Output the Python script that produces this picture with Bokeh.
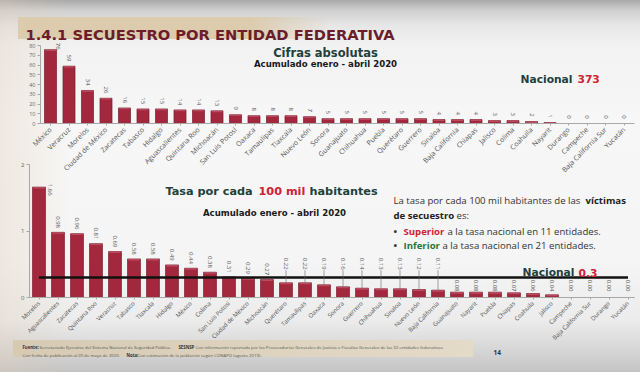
import math
from bokeh.plotting import figure
from bokeh.models import Range1d, FixedTicker, Label
from bokeh.layouts import column
from bokeh.embed import file_html
from bokeh.resources import INLINE
from bokeh.core.properties import value

# ---------------- data ----------------
abs_states = ["México", "Veracruz", "Morelos", "Ciudad de México", "Zacatecas", "Tabasco",
              "Hidalgo", "Aguascalientes", "Quintana Roo", "Michoacán", "San Luis Potosí",
              "Oaxaca", "Tamaulipas", "Tlaxcala", "Nuevo León", "Sonora", "Guanajuato",
              "Chihuahua", "Puebla", "Querétaro", "Guerrero", "Sinaloa", "Baja California",
              "Chiapas", "Jalisco", "Colima", "Coahuila", "Nayarit", "Durango", "Campeche",
              "Baja California Sur", "Yucatán"]
abs_values = [76, 59, 34, 26, 16, 15, 15, 14, 14, 13, 9, 8, 8, 8, 7, 5, 5, 5, 5, 5, 5,
              4, 4, 4, 3, 3, 2, 1, 0, 0, 0, 0]
abs_nacional = 373
abs_ticks = [0, 10, 20, 30, 40, 50, 60, 70, 80]

rate_states = ["Morelos", "Aguascalientes", "Zacatecas", "Quintana Roo", "Veracruz", "Tabasco",
               "Tlaxcala", "Hidalgo", "México", "Colima", "San Luis Potosí", "Ciudad de México",
               "Michoacán", "Querétaro", "Tamaulipas", "Oaxaca", "Sonora", "Guerrero",
               "Chihuahua", "Sinaloa", "Nuevo León", "Baja California", "Guanajuato", "Nayarit",
               "Puebla", "Chiapas", "Coahuila", "Jalisco", "Campeche", "Baja California Sur",
               "Durango", "Yucatán"]
rate_values = [1.66, 0.98, 0.96, 0.81, 0.69, 0.58, 0.58, 0.49, 0.44, 0.38, 0.31, 0.29, 0.27,
               0.22, 0.22, 0.19, 0.16, 0.14, 0.13, 0.13, 0.12, 0.11, 0.08, 0.08, 0.08, 0.07,
               0.06, 0.04, 0.00, 0.00, 0.00, 0.00]
rate_nacional = 0.3
rate_ticks = [0, 1, 2]
n_sup = sum(1 for v in rate_values if v > rate_nacional)
n_inf = len(rate_values) - n_sup

# ---------------- styles ----------------
FONT = "Open Sans"
HFONT = "DejaVu Sans"
TEAL = "#22403c"
RED = "#cf2233"
GREEN = "#1d7a3a"
MAROON = "#6b1d2a"
BAR = "#a3283d"
BAR_LINE = "#7c1b2c"
BAR_HI = "#cf6a7e"
GREY_TXT = "#555555"
AXIS = "#a8a8a8"

W = 640
TITLE_H = 48              # page y 0..48
TOP_Y0, TOP_Y1 = 40, 180
BOT_Y0, BOT_Y1 = 155, 350
FOOT_Y0, FOOT_Y1 = 335, 372

# ---------------- top chart geometry (page px) ----------------
T_L, T_R, T_T, T_Z = 40, 634, 40, 128
T_U = 1.03
T_C0, T_STEP = 50, 18.5
t_xs = -(T_C0 - T_L) / T_STEP
t_xe = t_xs + (T_R - T_L) / T_STEP
t_ye = (T_Z - T_T) / T_U


def tx(px):
    return t_xs + (px - T_L) / T_STEP


def ty(py):
    return (T_Z - py) / T_U


# ---------------- bottom chart geometry (page px) ----------------
B_L, B_R, B_T, B_Z = 29, 634, 160, 297
B_U = 66.5
B_C0, B_STEP = 38.5, 19.0
b_xs = -(B_C0 - B_L) / B_STEP
b_xe = b_xs + (B_R - B_L) / B_STEP
b_ye = (B_Z - B_T) / B_U


def bx(px):
    return b_xs + (px - B_L) / B_STEP


def by(py):
    return (B_Z - py) / B_U


def lab(p, x, y, text, size, color, bold=True, align="left", font=FONT):
    p.add_layout(Label(x=x, y=y, text=text, text_font=font, text_font_size=size,
                       text_font_style="bold" if bold else "normal", text_color=color,
                       text_align=align, text_baseline="alphabetic"))


def style_fig(p):
    try:
        p.frame_align = False
    except Exception:
        pass
    p.border_fill_alpha = 0
    p.background_fill_alpha = 0
    p.outline_line_color = None
    if p.xgrid:
        p.xgrid.grid_line_color = None
    if p.ygrid:
        p.ygrid.grid_line_color = None


def style_axes(p, xlabels, xsize, ysize, yticks, ybounds):
    ax = p.xaxis[0]
    ax.ticker = FixedTicker(ticks=list(range(len(xlabels))), minor_ticks=[])
    ax.major_label_overrides = {i: s for i, s in enumerate(xlabels)}
    ax.major_label_orientation = math.pi / 4
    ax.major_label_text_font = FONT
    ax.major_label_text_font_size = xsize
    ax.major_label_text_color = GREY_TXT
    ax.major_label_standoff = 3
    ax.axis_line_color = AXIS
    ax.major_tick_line_color = AXIS
    ax.major_tick_out = 2
    ax.major_tick_in = 0
    ax.minor_tick_line_color = None
    ay = p.yaxis[0]
    ay.ticker = FixedTicker(ticks=yticks, minor_ticks=[])
    ay.bounds = ybounds
    ay.major_label_text_font = FONT
    ay.major_label_text_font_size = ysize
    ay.major_label_text_color = "#666666"
    ay.major_label_standoff = 2
    ay.axis_line_color = AXIS
    ay.major_tick_line_color = AXIS
    ay.major_tick_out = 3
    ay.major_tick_in = 0
    ay.minor_tick_line_color = None


def add_bars(p, xs, vals, width, hi_depth):
    p.vbar(x=xs, top=vals, width=width, bottom=0, fill_color=BAR,
           line_color=BAR_LINE, line_width=0.7)
    hx = [x for x, v in zip(xs, vals) if v > 0]
    hv = [v for v in vals if v > 0]
    hb = [max(v - hi_depth, 0) for v in hv]
    p.vbar(x=hx, top=hv, bottom=hb, width=width * 0.9, fill_color=BAR_HI,
           fill_alpha=0.55, line_color=None)


def plain_fig(y0, y1, prev_bottom):
    # frame covers the whole canvas, data units = page pixels
    p = figure(width=W, height=y1 - y0, x_range=Range1d(0, W), y_range=Range1d(y1, y0),
               x_axis_location=None, y_axis_location=None, min_border=0,
               output_backend="svg", toolbar_location=None)
    p.margin = (-(prev_bottom - y0), 0, 0, 0)
    style_fig(p)
    return p


# ================= TITLE FIGURE (page y 0..48) =================
ttl = plain_fig(0, TITLE_H, 0)
lab(ttl, 25, 33.5, "1.4.1 SECUESTRO POR ENTIDAD FEDERATIVA", "14.7px", MAROON, font=HFONT)

# ================= TOP FIGURE (page y 40..180) =================
top = figure(width=W, height=TOP_Y1 - TOP_Y0, x_range=Range1d(t_xs, t_xe), y_range=Range1d(0, t_ye),
             output_backend="svg", toolbar_location=None,
             min_border_left=T_L, min_border_right=W - T_R,
             min_border_top=T_T - TOP_Y0, min_border_bottom=TOP_Y1 - T_Z)
top.margin = (-(TITLE_H - TOP_Y0), 0, 0, 0)
style_fig(top)
style_axes(top, abs_states, "7px", "5.5px", abs_ticks, (abs_ticks[0], abs_ticks[-1]))

xs_top = list(range(len(abs_values)))
add_bars(top, xs_top, abs_values, 0.65, 1.4)

tlx, tly = [], []
for i, v in enumerate(abs_values):
    if i == 0:
        tlx.append(i + 0.43)
        tly.append(v)
    else:
        tlx.append(i)
        tly.append(v + 4.9)
top.text(x=tlx, y=tly, text=[str(v) for v in abs_values], angle=-math.pi / 2,
         text_align="right", text_baseline="middle", text_font=value(FONT),
         text_font_size="6px", text_color=GREY_TXT)

lab(top, tx(325), ty(53), "Cifras absolutas", "11.5px", TEAL, align="center", font=HFONT)
lab(top, tx(325), ty(65), "Acumulado enero - abril 2020", "8.6px", "#1a1a1a", align="center", font=HFONT)
lab(top, tx(520), ty(81), "Nacional", "10.7px", TEAL, font=HFONT)
lab(top, tx(577), ty(81), str(abs_nacional), "10.7px", RED, font=HFONT)

# ================= BOTTOM FIGURE (page y 155..350, overlaps top) =================
bot = figure(width=W, height=BOT_Y1 - BOT_Y0, x_range=Range1d(b_xs, b_xe),
             y_range=Range1d(0, b_ye), output_backend="svg", toolbar_location=None,
             min_border_left=B_L, min_border_right=W - B_R,
             min_border_top=B_T - BOT_Y0, min_border_bottom=BOT_Y1 - B_Z)
bot.margin = (-(TOP_Y1 - BOT_Y0), 0, 0, 0)
style_fig(bot)
style_axes(bot, rate_states, "6px", "6px", rate_ticks, (rate_ticks[0], rate_ticks[-1]))

xs_bot = list(range(len(rate_values)))
add_bars(bot, xs_bot, rate_values, 0.68, 0.022)
bot.segment(x0=[xs_bot[0]], x1=[xs_bot[-1]], y0=[rate_nacional], y1=[rate_nacional],
            line_color="#111111", line_width=2.5)

blx, bly, bal = [], [], []
lead_x, lead_y0, lead_y1 = [], [], []
for i, v in enumerate(rate_values):
    if i == 0:
        blx.append(i + 0.6); bly.append(v + 0.05); bal.append("left")
    elif 0.1 < v < 0.25:
        blx.append(i); bly.append(0.42); bal.append("right")
        lead_x.append(i); lead_y0.append(v); lead_y1.append(0.41)
    elif v <= 0.1:
        blx.append(i); bly.append(0.09); bal.append("right")
    else:
        blx.append(i); bly.append(v + 0.065); bal.append("right")
bot.segment(x0=lead_x, x1=lead_x, y0=lead_y0, y1=lead_y1, line_color="#666666", line_width=0.6)
bot.text(x=blx, y=bly, text=["%.2f" % v for v in rate_values], angle=-math.pi / 2,
         text_align=bal, text_baseline="middle", text_font=value(FONT),
         text_font_size="6px", text_color=GREY_TXT)

lab(bot, bx(165), by(191), "Tasa por cada", "11.25px", TEAL, font=HFONT)
lab(bot, bx(258), by(191), "100 mil", "11.25px", RED, font=HFONT)
lab(bot, bx(309), by(191), "habitantes", "11.25px", TEAL, font=HFONT)
lab(bot, bx(274), by(212), "Acumulado enero - abril 2020", "8.6px", "#1a1a1a", align="center", font=HFONT)

BS = "9.6px"
lab(bot, bx(393), by(200), "La tasa por cada 100 mil habitantes de las", BS, "#333333", bold=False)
lab(bot, bx(585), by(200), "víctimas", BS, "#222222")
lab(bot, bx(393), by(215), "de secuestro", BS, "#222222")
lab(bot, bx(456), by(215), "es:", BS, "#333333", bold=False)
lab(bot, bx(393), by(231), "•", BS, "#333333")
lab(bot, bx(403), by(231), "Superior", BS, RED)
lab(bot, bx(447), by(231), "a la tasa nacional en %d entidades." % n_sup, BS, "#333333", bold=False)
lab(bot, bx(393), by(245), "•", BS, "#333333")
lab(bot, bx(403), by(245), "Inferior", BS, GREEN)
lab(bot, bx(442), by(245), "a la tasa nacional en %d entidades." % n_inf, BS, "#333333", bold=False)

lab(bot, bx(522), by(272), "Nacional", "10.7px", TEAL, font=HFONT)
lab(bot, bx(578), by(272), str(rate_nacional), "10.7px", RED, font=HFONT)

# ================= FOOTER FIGURE (page y 335..372, overlaps bottom) =================
foot = plain_fig(FOOT_Y0, FOOT_Y1, BOT_Y1)
FS = "4.3px"
lab(foot, 22, 346.5, "Fuente:", FS, "#333333")
lab(foot, 39, 346.5, "Secretariado Ejecutivo del Sistema Nacional de Seguridad Pública.", FS, "#555555", bold=False)
lab(foot, 178, 346.5, "SESNSP", FS, "#333333")
lab(foot, 195, 346.5, "Con información reportada por las Procuradurías Generales de Justicia o Fiscalías Generales de las 32 entidades federativas.", FS, "#555555", bold=False)
lab(foot, 22, 354, "Con fecha de publicación al 20 de mayo de 2020.", FS, "#555555", bold=False)
lab(foot, 126, 354, "Nota:", FS, "#333333")
lab(foot, 137, 354, "Con estimación de la población según CONAPO (agosto 2019).", FS, "#555555", bold=False)
lab(foot, 493, 352, "14", "6.5px", "#333333")

background = ", ".join([
    "linear-gradient(90deg, #dccbad 0px, #dccbad 232px, rgba(220,203,173,0) 312px) 18px 17px / 312px 22px no-repeat",
    "linear-gradient(90deg, #d6cab3, #e4dac8) 13px 340px / 460px 17px no-repeat",
    "linear-gradient(90deg, rgba(222,205,180,0.35) 0px, rgba(222,205,180,0) 70px)",
    "linear-gradient(180deg, #a8a8a8 0px, #cfcfcf 10px, #e6e6e6 25px, #f2f2f2 45px, #f7f7f7 120px, "
    "#f5f5f5 260px, #ececec 320px, #d6d6d6 350px, #c4c4c4 372px)",
])

page = column(ttl, top, bot, foot, styles={"background": background, "overflow": "hidden"})

open("out.html", "w").write(file_html(page, INLINE))
